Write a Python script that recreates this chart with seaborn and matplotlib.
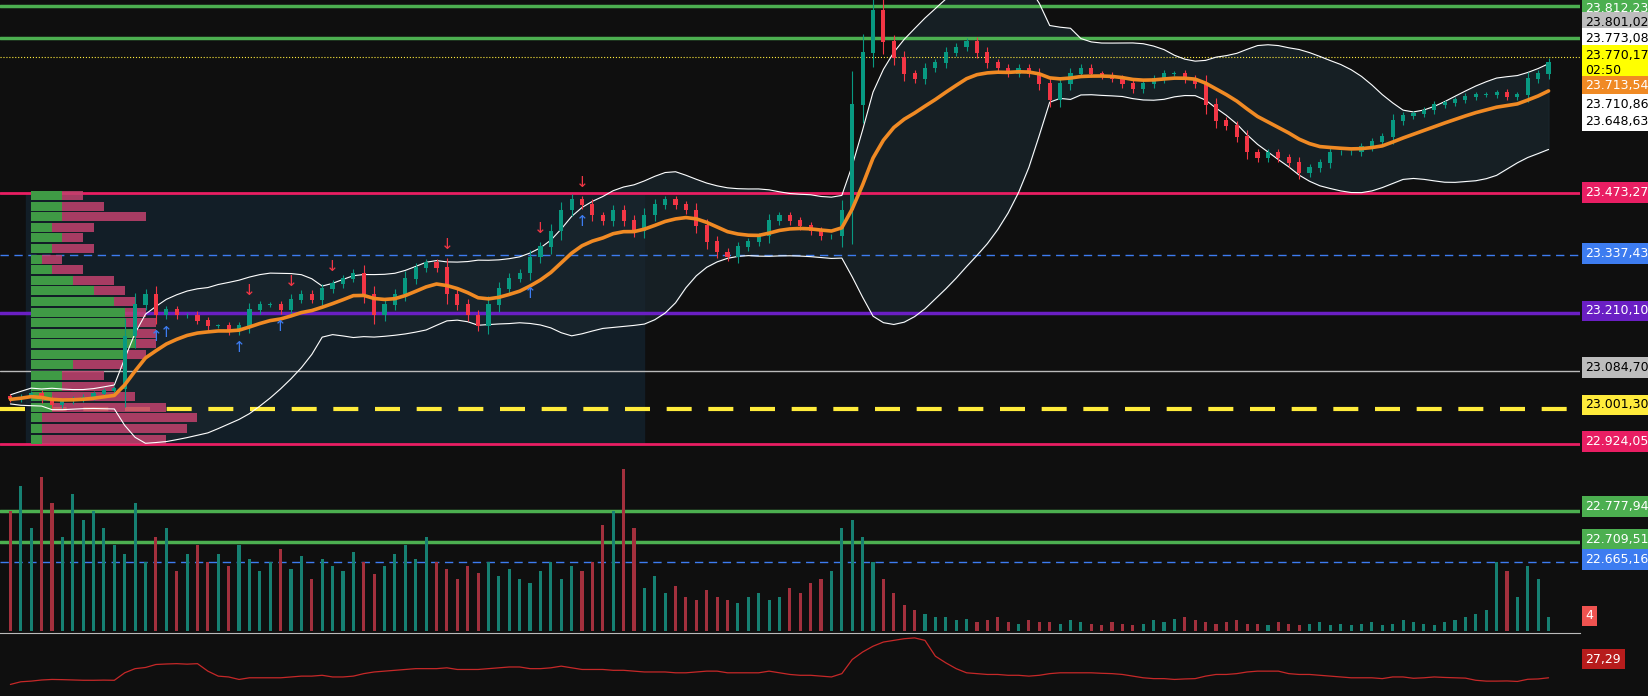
import numpy as np
import pandas as pd
import matplotlib.pyplot as plt
import matplotlib.transforms as mtransforms
import seaborn as sns

# closes (displayed px, 0 = top of price pane)
close_rows = [380, 378, 375, 380, 385, 382, 380, 378, 375, 372, 370,
              320, 290, 280, 300, 295, 300, 300, 305, 310, 310,
              315, 310, 295, 290, 290, 295, 285, 280, 285, 275,
              270, 265, 260, 280, 300, 290, 280, 265, 255, 250,
              255, 280, 290, 300, 310, 290, 275, 265, 260, 245,
              235, 220, 200, 190, 195, 205, 210, 200, 210, 220,
              205, 195, 190, 195, 200, 215, 230, 240, 245, 235,
              230, 225, 210, 205, 210, 215, 220, 225, 225, 200,
              100, 50, 10, 40, 55, 70, 75, 65, 60, 50,
              45, 40, 50, 60, 65, 70, 65, 70, 80, 95,
              80, 70, 65, 70, 72, 75, 80, 85, 80, 75,
              70, 70, 75, 80, 100, 115, 120, 130, 145, 150,
              145, 150, 155, 165, 160, 155, 145, 145, 145, 140,
              135, 130, 115, 110, 108, 105, 100, 98, 95, 92,
              90, 90, 88, 92, 90, 75, 70, 60]

volume = [70, 85, 60, 90, 75, 55, 80, 65, 70, 60,
          50, 45, 75, 40, 55, 60, 35, 45, 50, 40,
          45, 38, 50, 42, 35, 40, 48, 36, 44, 30,
          42, 38, 35, 46, 40, 33, 38, 45, 50, 42,
          55, 40, 36, 30, 38, 34, 40, 32, 36, 30,
          28, 35, 40, 30, 38, 35, 40, 62, 70, 95,
          60, 25, 32, 22, 26, 20, 18, 24, 20, 18,
          16, 20, 22, 18, 20, 25, 22, 28, 30, 35,
          60, 65, 55, 40, 30, 22, 15, 12, 10, 8,
          8, 6, 7, 5, 6, 8, 5, 4, 6, 5,
          5, 4, 6, 5, 4, 3, 5, 4, 3, 4,
          6, 5, 7, 8, 6, 5, 4, 5, 6, 4,
          4, 3, 5, 4, 3, 4, 5, 3, 4, 3,
          4, 5, 3, 4, 6, 5, 4, 3, 5, 6,
          8, 10, 12, 40, 35, 20, 38, 30, 8]

# volume profile rows (top -> bottom), lengths in bars
vp_prices = np.linspace(23468, 22935, 24)
vp_green = [3, 3, 3, 2, 3, 2, 1, 2, 4, 6, 8, 9, 9, 10, 10, 9, 4, 3, 3, 2, 2, 1, 1, 1]
vp_total = [5, 7, 11, 6, 5, 6, 3, 5, 8, 9, 10, 11, 12, 12, 12, 11, 9, 7, 8, 10, 13, 16, 15, 13]

levels = [(23883.0, '#4caf50', '-', 2.5), (23812.23, '#4caf50', '-', 2.5),
          (23473.27, '#e91e63', '-', 2), (23337.43, '#3d7cf0', (0, (6, 4)), 1),
          (23210.10, '#6a1fc4', '-', 2.5), (23084.70, '#bbbbbb', '-', 1),
          (23001.30, '#ffeb3b', (0, (6, 4)), 3), (22924.05, '#e91e63', '-', 2),
          (22777.94, '#4caf50', '-', 2.5), (22709.51, '#4caf50', '-', 2.5),
          (22665.16, '#3d7cf0', (0, (6, 4)), 1)]

# right-hand price tags: text, background, text colour, axes-fraction y
tags = [('23.812,23', '#4caf50', 'white', 0.987), ('23.801,02', '#bdbdbd', 'black', 0.964),
        ('23.773,08', 'white', 'black', 0.939), ('23.770,17\n02:50', '#ffff00', 'black', 0.900),
        ('23.713,54', '#f08a24', 'white', 0.864), ('23.710,86', 'white', 'black', 0.835),
        ('23.648,63', 'white', 'black', 0.808), ('23.473,27', '#e91e63', 'white', 0.695),
        ('23.337,43', '#3d7cf0', 'white', 0.598), ('23.210,10', '#6a1fc4', 'white', 0.507),
        ('23.084,70', '#bdbdbd', 'black', 0.417), ('23.001,30', '#ffeb3b', 'black', 0.358),
        ('22.924,05', '#e91e63', 'white', 0.300), ('22.777,94', '#4caf50', 'white', 0.197),
        ('22.709,51', '#4caf50', 'white', 0.145), ('22.665,16', '#3d7cf0', 'white', 0.113)]

sns.set_style('dark')
bg = '#0f0f0f'
close = 23896 - 2.3 * np.array(close_rows, dtype=float)
n = len(close)
idx = np.arange(n)
opn = np.r_[close[0] + 6, close[:-1]]
wick = 0.3 * np.abs(close - opn) + 5
high = np.maximum(opn, close) + wick
low = np.minimum(opn, close) - wick
up = close >= opn

s = pd.Series(close)
mid = s.rolling(20, min_periods=1).mean()
sd = s.rolling(20, min_periods=1).std().fillna(0)
bb_up, bb_lo = mid + 1.6 * sd + 10, mid - 1.6 * sd - 10
ema = s.ewm(span=12).mean()

fig = plt.figure(figsize=(16.49, 6.96), dpi=100, facecolor=bg)
ax = fig.add_axes([0, 0.094, 0.958, 0.906], facecolor=bg)
sub = fig.add_axes([0, 0, 0.958, 0.090], facecolor=bg)

ax.set_xlim(-1, n + 2)
ax.set_ylim(22516, 23896)

# shaded profile range
ax.fill_between([1.5, 61], 22924, 23473, color='#13202a', alpha=0.9, zorder=0)

ax.fill_between(idx, bb_lo, bb_up, color='#1a262e', alpha=0.7, zorder=1)
ax.plot(idx, bb_up, color='white', lw=0.8, zorder=3)
ax.plot(idx, bb_lo, color='white', lw=0.8, zorder=3)

for lv, col, ls, lw in levels:
    ax.axhline(lv, color=col, ls=ls, lw=lw, zorder=2)
ax.axhline(23770.17, color='#ffeb3b', ls=':', lw=0.8, zorder=2)

# volume profile
h = vp_prices[0] - vp_prices[1]
ax.barh(vp_prices, vp_total, height=h * 0.85, left=2, color='#c2426e', alpha=0.85,
        lw=0, zorder=2)
ax.barh(vp_prices, vp_green, height=h * 0.85, left=2, color='#3f9a45', lw=0, zorder=2)

cols = np.where(up, '#089981', '#f23645')
ax.vlines(idx, low, high, color=cols, lw=0.8, zorder=4)
ax.bar(idx, np.abs(close - opn) + 1.5, bottom=np.minimum(opn, close), width=0.4,
       color=cols, lw=0, zorder=4)
ax.plot(idx, ema, color='#f08a24', lw=2.6, zorder=5)

# signal arrows
for i in [23, 27, 31, 42, 51, 55]:
    ax.text(i, high[i] + 12, '↓', color='#f23645', ha='center', va='bottom', fontsize=11, zorder=6)
for i in [14, 15, 22, 26, 50, 55]:
    ax.text(i, low[i] - 12, '↑', color='#3d7cf0', ha='center', va='top', fontsize=11, zorder=6)

# volume in the bottom of the price pane
vax = ax.twinx()
vax.set_ylim(0, 100 / 0.27)
vax.bar(idx, volume[:n], width=0.3, color=np.where(up, '#168072', '#a3303d'), lw=0)
vax.set_yticks([])
for a in (ax, vax, sub):
    a.set_xticks([])
    a.set_yticks([])
    for sp in a.spines.values():
        sp.set_visible(False)
sub.spines['top'].set_visible(True)
sub.spines['top'].set_color('#bbbbbb')

# lower indicator pane
ind = s.diff().abs().rolling(8, min_periods=1).mean().fillna(0)
sub.plot(idx, 27 + ind * 0.6, color='#c62828', lw=0.9)
sub.set_xlim(-1, n + 2)
sub.set_ylim(15, 80)

tr = mtransforms.blended_transform_factory(fig.transFigure, ax.transAxes)
for txt, bgc, fc, yy in tags:
    ax.text(0.9615, yy, txt, transform=tr, color=fc, fontsize=9, va='center', ha='left',
            bbox=dict(boxstyle='square,pad=0.3', fc=bgc, ec='none'))
fig.text(0.9615, 0.053, '27,29', color='white', fontsize=9, va='center',
         bbox=dict(boxstyle='square,pad=0.3', fc='#b71c1c', ec='none'))
ax.text(0.9615, 0.115, '4', transform=fig.transFigure, color='white', fontsize=9, va='center',
        bbox=dict(boxstyle='square,pad=0.3', fc='#ef5350', ec='none'))

fig.savefig('out.png', dpi=100, facecolor=bg)
